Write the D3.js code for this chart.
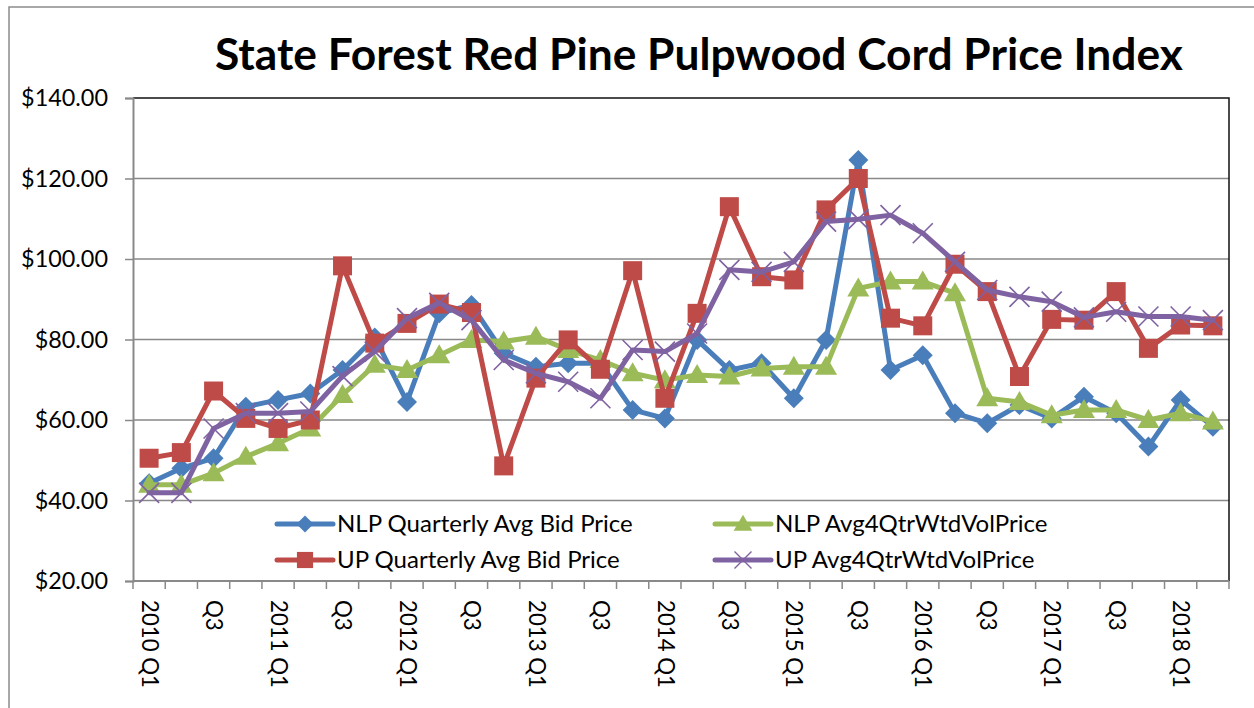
<!DOCTYPE html>
<html>
<head>
<meta charset="utf-8">
<script src="https://cdn.jsdelivr.net/npm/d3@7"></script>
<style>
  html, body { margin: 0; padding: 0; background: #fff; }
  svg { display: block; }
  text { font-family: Lato, "Open Sans", sans-serif; fill: #000; }
</style>
</head>
<body>
<svg id="chart" width="1254" height="708"></svg>
<script>
const categories = [
  "2010 Q1","2010 Q2","2010 Q3","2010 Q4",
  "2011 Q1","2011 Q2","2011 Q3","2011 Q4",
  "2012 Q1","2012 Q2","2012 Q3","2012 Q4",
  "2013 Q1","2013 Q2","2013 Q3","2013 Q4",
  "2014 Q1","2014 Q2","2014 Q3","2014 Q4",
  "2015 Q1","2015 Q2","2015 Q3","2015 Q4",
  "2016 Q1","2016 Q2","2016 Q3","2016 Q4",
  "2017 Q1","2017 Q2","2017 Q3","2017 Q4",
  "2018 Q1","2018 Q2"
];
const tickLabels = [
  "2010 Q1","","Q3","",
  "2011 Q1","","Q3","",
  "2012 Q1","","Q3","",
  "2013 Q1","","Q3","",
  "2014 Q1","","Q3","",
  "2015 Q1","","Q3","",
  "2016 Q1","","Q3","",
  "2017 Q1","","Q3","",
  "2018 Q1",""
];
const nlpQuarterly = [44.3,48.0,50.5,63.3, 65.0,66.6,72.4,80.5, 64.5,86.5,88.6,76.6,
  73.2,74.1,74.1,62.5, 60.4,79.9,72.4,74.1, 65.4,79.9,124.6,72.4,
  76.1,61.7,59.2,63.7, 60.4,65.8,61.7,53.4, 65.0,58.3];
const nlpAvg4Qtr = [43.9,43.9,46.8,50.9, 54.2,57.9,66.2,73.7, 72.4,76.1,79.9,79.5,
  80.7,77.4,74.9,71.6, 69.9,71.2,70.8,72.8, 73.2,73.2,92.7,94.4,
  94.4,91.5,65.4,64.5, 61.2,62.5,62.5,60.0, 61.7,59.6];
const upQuarterly = [50.5,51.9,67.2,60.4, 57.9,60.0,98.3,79.1, 84.0,88.8,86.7,48.6,
  70.4,79.9,72.6,97.1, 65.4,86.5,113.0,95.6, 94.8,112.2,120.0,85.3,
  83.4,98.7,91.9,70.8, 85.0,84.8,91.9,77.8, 83.6,83.4];
const upAvg4Qtr = [41.9,41.9,57.9,61.7, 61.7,62.1,70.9,77.0, 85.3,89.1,84.8,74.9,
  71.6,69.5,65.4,77.4, 77.0,81.5,97.3,96.8, 99.3,109.3,109.9,110.9,
  106.4,99.3,92.3,90.6, 89.4,85.5,86.9,85.7, 85.7,84.8];
const yTicks = [20,40,60,80,100,120,140];
const seriesNames = ["NLP Quarterly Avg Bid Price","NLP Avg4QtrWtdVolPrice","UP Quarterly Avg Bid Price","UP Avg4QtrWtdVolPrice"];
const seriesColors = ["#4A7EBB","#9BBB59","#BE4B48","#7F62A1"];
const seriesMarkers = ["diamond","triangle","square","x"];

const seriesValues = [nlpQuarterly, nlpAvg4Qtr, upQuarterly, upAvg4Qtr];

const svg = d3.select("#chart");
const plot = {left: 133, right: 1229, top: 98, bottom: 581};

const x = d3.scalePoint().domain(categories).range([plot.left, plot.right]).padding(0.5);
const y = d3.scaleLinear().domain([20,140]).range([plot.bottom, plot.top]);
const step = x.step();

function fitText(sel, targetWidth, startSize) {
  sel.style("font-size", startSize + "px");
  const w = sel.node().getComputedTextLength();
  const size = startSize * targetWidth / w;
  sel.style("font-size", size + "px");
  return size;
}

// Outer border
svg.append("rect").attr("x", 9).attr("y", 7).attr("width", 1260).attr("height", 720)
  .attr("fill", "none").attr("stroke", "#8c8c8c").attr("stroke-width", 1.5);

// Title
const title = svg.append("text").attr("x", 699).attr("y", 70).attr("text-anchor", "middle")
  .style("font-weight", "bold").text("State Forest Red Pine Pulpwood Cord Price Index");
fitText(title, 968, 40);

// Gridlines
svg.append("g").selectAll("line").data(yTicks.filter(d => d > 20 && d < 140)).join("line")
  .attr("x1", plot.left).attr("x2", plot.right)
  .attr("y1", d => y(d)).attr("y2", d => y(d))
  .attr("stroke", "#898989").attr("stroke-width", 1.5);

// Plot border top/right (black)
svg.append("path")
  .attr("d", `M${plot.left},${plot.top}H${plot.right}V${plot.bottom}`)
  .attr("fill", "none").attr("stroke", "#111").attr("stroke-width", 1.5);

// Y axis
const yAxis = d3.axisLeft(y).tickValues(yTicks).tickSize(8).tickPadding(17)
  .tickFormat(d => "$" + d3.format(".2f")(d));
const gy = svg.append("g").attr("transform", `translate(${plot.left},0)`).call(yAxis);
gy.select(".domain").attr("stroke", "#898989").attr("stroke-width", 2);
gy.selectAll(".tick line").attr("stroke", "#898989").attr("stroke-width", 1.5);
gy.selectAll(".tick text").style("font-family", "Lato, sans-serif").attr("fill", "#000");
{
  const t = gy.selectAll(".tick text").filter(d => d === 140);
  const s = fitText(t, 87, 21);
  gy.selectAll(".tick text").style("font-size", s + "px");
}

// X axis: category boundary ticks
const bounds = d3.range(categories.length + 1).map(i => plot.left + i * step);
svg.append("g").selectAll("line").data(bounds).join("line")
  .attr("x1", d => d).attr("x2", d => d).attr("y1", plot.bottom).attr("y2", plot.bottom + 8)
  .attr("stroke", "#898989").attr("stroke-width", 1.5);
svg.append("line").attr("x1", plot.left).attr("x2", plot.right)
  .attr("y1", plot.bottom).attr("y2", plot.bottom)
  .attr("stroke", "#898989").attr("stroke-width", 2);

const xl = svg.append("g").selectAll("text").data(categories.map((c, i) => ({c, label: tickLabels[i]})).filter(d => d.label))
  .join("text")
  .attr("transform", d => `translate(${x(d.c)},600) rotate(90)`)
  .attr("dy", "0.33em")
  .text(d => d.label);
{
  const t = xl.filter(d => d.label === "2013 Q1");
  const s = fitText(t, 88, 21);
  xl.style("font-size", s + "px");
}

// Markers
function markerPath(type) {
  if (type === "diamond") return "M0,-10L10,0L0,10L-10,0Z";
  if (type === "square") return "M-9.5,-9.5H9.5V9.5H-9.5Z";
  if (type === "triangle") return "M0,-11L11,8L-11,8Z";
  if (type === "x") return "M-10,-10L10,10M-10,10L10,-10";
  return "";
}
function drawMarker(g, type, color) {
  if (type === "x") {
    g.append("path").attr("d", markerPath(type)).attr("fill", "none")
      .attr("stroke", color).attr("stroke-width", 1.6);
  } else {
    g.append("path").attr("d", markerPath(type)).attr("fill", color).attr("stroke", "none");
  }
}

const line = d3.line().x((d, i) => x(categories[i])).y(d => y(d));
seriesValues.forEach((vals, si) => {
  const g = svg.append("g");
  g.append("path").datum(vals).attr("d", line).attr("fill", "none")
    .attr("stroke", seriesColors[si]).attr("stroke-width", 5).attr("stroke-linejoin", "round").attr("stroke-linecap", "round");
  vals.forEach((v, i) => {
    const mg = g.append("g").attr("transform", `translate(${x(categories[i])},${y(v)})`);
    drawMarker(mg, seriesMarkers[si], seriesColors[si]);
  });
});

// Legend
const legendPos = [
  {lx: 277, ly: 524}, {lx: 715, ly: 524},
  {lx: 277, ly: 560}, {lx: 715, ly: 560}
];
const lg = svg.append("g");
let legendFont = null;
seriesNames.forEach((name, si) => {
  const p = legendPos[si];
  const g = lg.append("g").attr("transform", `translate(${p.lx},${p.ly})`);
  g.append("line").attr("x1", 0).attr("x2", 56).attr("y1", 0).attr("y2", 0)
    .attr("stroke", seriesColors[si]).attr("stroke-width", 5).attr("stroke-linecap", "round");
  const mg = g.append("g").attr("transform", "translate(28,0) scale(0.85)");
  drawMarker(mg, seriesMarkers[si], seriesColors[si]);
  const t = g.append("text").attr("x", 60).attr("y", 0).attr("dy", "0.35em").text(name);
  if (si === 0) legendFont = fitText(t, 296, 21);
  else t.style("font-size", legendFont + "px");
});
</script>
</body>
</html>
